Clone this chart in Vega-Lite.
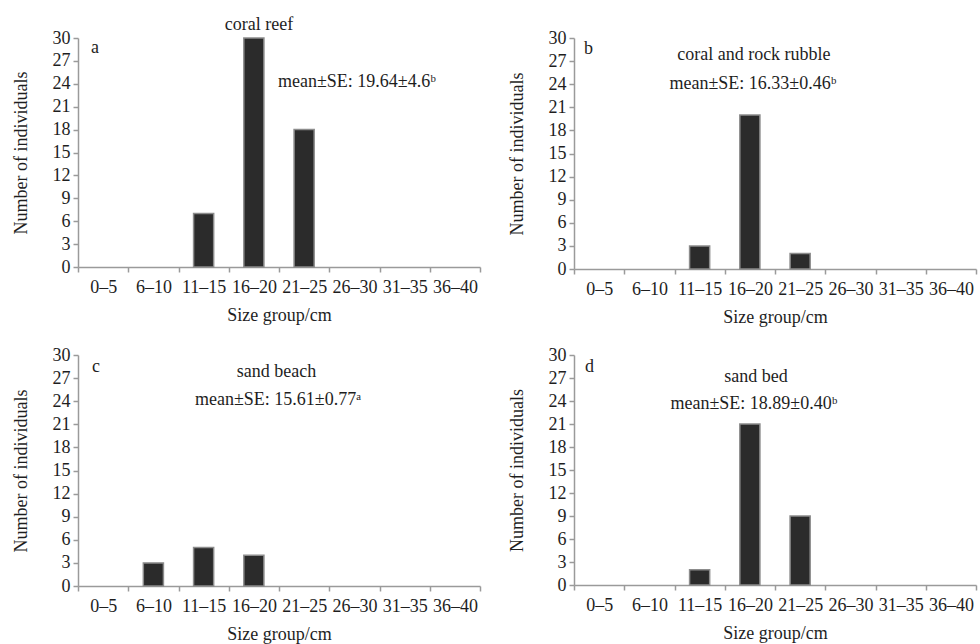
{
  "$schema": "https://vega.github.io/schema/vega-lite/v6.json",
  "background": "white",
  "padding": {"left": 12, "top": 16, "right": 2, "bottom": 2},
  "datasets": {
    "counts": [
      {"habitat": "a", "group": "11–15", "n": 7},
      {"habitat": "a", "group": "16–20", "n": 30},
      {"habitat": "a", "group": "21–25", "n": 18},
      {"habitat": "b", "group": "11–15", "n": 3},
      {"habitat": "b", "group": "16–20", "n": 20},
      {"habitat": "b", "group": "21–25", "n": 2},
      {"habitat": "c", "group": "6–10", "n": 3},
      {"habitat": "c", "group": "11–15", "n": 5},
      {"habitat": "c", "group": "16–20", "n": 4},
      {"habitat": "d", "group": "11–15", "n": 2},
      {"habitat": "d", "group": "16–20", "n": 21},
      {"habitat": "d", "group": "21–25", "n": 9}
    ],
    "notes": [
      {"habitat": "a", "kind": "tag", "text": "a"},
      {"habitat": "a", "kind": "name", "text": "coral reef"},
      {"habitat": "a", "kind": "mean", "text": "mean±SE: 19.64±4.6ᵇ"},
      {"habitat": "b", "kind": "tag", "text": "b"},
      {"habitat": "b", "kind": "name", "text": "coral and rock rubble"},
      {"habitat": "b", "kind": "mean", "text": "mean±SE: 16.33±0.46ᵇ"},
      {"habitat": "c", "kind": "tag", "text": "c"},
      {"habitat": "c", "kind": "name", "text": "sand beach"},
      {"habitat": "c", "kind": "mean", "text": "mean±SE: 15.61±0.77ᵃ"},
      {"habitat": "d", "kind": "tag", "text": "d"},
      {"habitat": "d", "kind": "name", "text": "sand bed"},
      {"habitat": "d", "kind": "mean", "text": "mean±SE: 18.89±0.40ᵇ"}
    ]
  },
  "columns": 2,
  "bounds": "flush",
  "spacing": {"row": 86, "column": 94},
  "concat": [
    {
      "width": 402,
      "height": 229,
      "layer": [
        {
          "data": {"name": "counts"},
          "transform": [{"filter": "datum.habitat === 'a'"}],
          "mark": {"type": "bar", "color": "#2b2b2b", "stroke": "#8c8c8c", "strokeWidth": 1.5, "width": {"band": 0.4}},
          "encoding": {
            "x": {"field": "group", "type": "nominal", "title": "Size group/cm",
                  "scale": {"domain": ["0–5", "6–10", "11–15", "16–20", "21–25", "26–30", "31–35", "36–40"], "paddingInner": 0, "paddingOuter": 0},
                  "axis": {"labelAngle": 0, "tickBand": "extent", "labelPadding": 6, "titlePadding": 10, "labelFont": "Liberation Serif", "titleFont": "Liberation Serif", "labelFontSize": 18, "titleFontSize": 18, "titleFontWeight": "normal", "labelColor": "#1e1e1e", "titleColor": "#1e1e1e", "domainColor": "#9a9a9a", "tickColor": "#9a9a9a", "domainWidth": 1.5, "tickWidth": 1.5, "tickSize": 5, "grid": false}},
            "y": {"field": "n", "type": "quantitative", "title": "Number of individuals",
                  "scale": {"domain": [0, 30], "nice": false},
                  "axis": {"values": [0, 3, 6, 9, 12, 15, 18, 21, 24, 27, 30], "labelOverlap": false, "labelPadding": 3, "titlePadding": 22, "labelFont": "Liberation Serif", "titleFont": "Liberation Serif", "labelFontSize": 18, "titleFontSize": 18, "titleFontWeight": "normal", "labelColor": "#1e1e1e", "titleColor": "#1e1e1e", "domainColor": "#9a9a9a", "tickColor": "#9a9a9a", "domainWidth": 1.5, "tickWidth": 1.5, "tickSize": 5, "grid": false}}
          }
        },
        {
          "data": {"name": "notes"},
          "transform": [{"filter": "datum.habitat === 'a' && datum.kind === 'tag'"}],
          "mark": {"type": "text", "align": "left", "dx": 13, "font": "Liberation Serif", "fontSize": 18, "color": "#1e1e1e"},
          "encoding": {
            "x": {"datum": "0–5", "bandPosition": 0, "title": "Size group/cm",
                  "axis": {"labelAngle": 0, "tickBand": "extent", "labelPadding": 6, "titlePadding": 10, "labelFont": "Liberation Serif", "titleFont": "Liberation Serif", "labelFontSize": 18, "titleFontSize": 18, "titleFontWeight": "normal", "labelColor": "#1e1e1e", "titleColor": "#1e1e1e", "domainColor": "#9a9a9a", "tickColor": "#9a9a9a", "domainWidth": 1.5, "tickWidth": 1.5, "tickSize": 5, "grid": false}},
            "y": {"datum": 28.7, "title": "Number of individuals",
                  "axis": {"values": [0, 3, 6, 9, 12, 15, 18, 21, 24, 27, 30], "labelOverlap": false, "labelPadding": 3, "titlePadding": 22, "labelFont": "Liberation Serif", "titleFont": "Liberation Serif", "labelFontSize": 18, "titleFontSize": 18, "titleFontWeight": "normal", "labelColor": "#1e1e1e", "titleColor": "#1e1e1e", "domainColor": "#9a9a9a", "tickColor": "#9a9a9a", "domainWidth": 1.5, "tickWidth": 1.5, "tickSize": 5, "grid": false}},
            "text": {"field": "text"}
          }
        },
        {
          "data": {"name": "notes"},
          "transform": [{"filter": "datum.habitat === 'a' && datum.kind === 'name'"}],
          "mark": {"type": "text", "font": "Liberation Serif", "fontSize": 18, "color": "#1e1e1e"},
          "encoding": {
            "x": {"datum": "16–20", "bandPosition": 0.6, "title": "Size group/cm",
                  "axis": {"labelAngle": 0, "tickBand": "extent", "labelPadding": 6, "titlePadding": 10, "labelFont": "Liberation Serif", "titleFont": "Liberation Serif", "labelFontSize": 18, "titleFontSize": 18, "titleFontWeight": "normal", "labelColor": "#1e1e1e", "titleColor": "#1e1e1e", "domainColor": "#9a9a9a", "tickColor": "#9a9a9a", "domainWidth": 1.5, "tickWidth": 1.5, "tickSize": 5, "grid": false}},
            "y": {"datum": 31.7, "title": "Number of individuals",
                  "axis": {"values": [0, 3, 6, 9, 12, 15, 18, 21, 24, 27, 30], "labelOverlap": false, "labelPadding": 3, "titlePadding": 22, "labelFont": "Liberation Serif", "titleFont": "Liberation Serif", "labelFontSize": 18, "titleFontSize": 18, "titleFontWeight": "normal", "labelColor": "#1e1e1e", "titleColor": "#1e1e1e", "domainColor": "#9a9a9a", "tickColor": "#9a9a9a", "domainWidth": 1.5, "tickWidth": 1.5, "tickSize": 5, "grid": false}},
            "text": {"field": "text"}
          }
        },
        {
          "data": {"name": "notes"},
          "transform": [{"filter": "datum.habitat === 'a' && datum.kind === 'mean'"}],
          "mark": {"type": "text", "font": "Liberation Serif", "fontSize": 18, "color": "#1e1e1e"},
          "encoding": {
            "x": {"datum": "26–30", "bandPosition": 0.55, "title": "Size group/cm",
                  "axis": {"labelAngle": 0, "tickBand": "extent", "labelPadding": 6, "titlePadding": 10, "labelFont": "Liberation Serif", "titleFont": "Liberation Serif", "labelFontSize": 18, "titleFontSize": 18, "titleFontWeight": "normal", "labelColor": "#1e1e1e", "titleColor": "#1e1e1e", "domainColor": "#9a9a9a", "tickColor": "#9a9a9a", "domainWidth": 1.5, "tickWidth": 1.5, "tickSize": 5, "grid": false}},
            "y": {"datum": 24.2, "title": "Number of individuals",
                  "axis": {"values": [0, 3, 6, 9, 12, 15, 18, 21, 24, 27, 30], "labelOverlap": false, "labelPadding": 3, "titlePadding": 22, "labelFont": "Liberation Serif", "titleFont": "Liberation Serif", "labelFontSize": 18, "titleFontSize": 18, "titleFontWeight": "normal", "labelColor": "#1e1e1e", "titleColor": "#1e1e1e", "domainColor": "#9a9a9a", "tickColor": "#9a9a9a", "domainWidth": 1.5, "tickWidth": 1.5, "tickSize": 5, "grid": false}},
            "text": {"field": "text"}
          }
        }
      ]
    },
    {
      "width": 402,
      "height": 231,
      "layer": [
        {
          "data": {"name": "counts"},
          "transform": [{"filter": "datum.habitat === 'b'"}],
          "mark": {"type": "bar", "color": "#2b2b2b", "stroke": "#8c8c8c", "strokeWidth": 1.5, "width": {"band": 0.4}},
          "encoding": {
            "x": {"field": "group", "type": "nominal", "title": "Size group/cm",
                  "scale": {"domain": ["0–5", "6–10", "11–15", "16–20", "21–25", "26–30", "31–35", "36–40"], "paddingInner": 0, "paddingOuter": 0},
                  "axis": {"labelAngle": 0, "tickBand": "extent", "labelPadding": 6, "titlePadding": 10, "labelFont": "Liberation Serif", "titleFont": "Liberation Serif", "labelFontSize": 18, "titleFontSize": 18, "titleFontWeight": "normal", "labelColor": "#1e1e1e", "titleColor": "#1e1e1e", "domainColor": "#9a9a9a", "tickColor": "#9a9a9a", "domainWidth": 1.5, "tickWidth": 1.5, "tickSize": 5, "grid": false}},
            "y": {"field": "n", "type": "quantitative", "title": "Number of individuals",
                  "scale": {"domain": [0, 30], "nice": false},
                  "axis": {"values": [0, 3, 6, 9, 12, 15, 18, 21, 24, 27, 30], "labelOverlap": false, "labelPadding": 3, "titlePadding": 22, "labelFont": "Liberation Serif", "titleFont": "Liberation Serif", "labelFontSize": 18, "titleFontSize": 18, "titleFontWeight": "normal", "labelColor": "#1e1e1e", "titleColor": "#1e1e1e", "domainColor": "#9a9a9a", "tickColor": "#9a9a9a", "domainWidth": 1.5, "tickWidth": 1.5, "tickSize": 5, "grid": false}}
          }
        },
        {
          "data": {"name": "notes"},
          "transform": [{"filter": "datum.habitat === 'b' && datum.kind === 'tag'"}],
          "mark": {"type": "text", "align": "left", "dx": 10, "font": "Liberation Serif", "fontSize": 18, "color": "#1e1e1e"},
          "encoding": {
            "x": {"datum": "0–5", "bandPosition": 0, "title": "Size group/cm",
                  "axis": {"labelAngle": 0, "tickBand": "extent", "labelPadding": 6, "titlePadding": 10, "labelFont": "Liberation Serif", "titleFont": "Liberation Serif", "labelFontSize": 18, "titleFontSize": 18, "titleFontWeight": "normal", "labelColor": "#1e1e1e", "titleColor": "#1e1e1e", "domainColor": "#9a9a9a", "tickColor": "#9a9a9a", "domainWidth": 1.5, "tickWidth": 1.5, "tickSize": 5, "grid": false}},
            "y": {"datum": 28.6, "title": "Number of individuals",
                  "axis": {"values": [0, 3, 6, 9, 12, 15, 18, 21, 24, 27, 30], "labelOverlap": false, "labelPadding": 3, "titlePadding": 22, "labelFont": "Liberation Serif", "titleFont": "Liberation Serif", "labelFontSize": 18, "titleFontSize": 18, "titleFontWeight": "normal", "labelColor": "#1e1e1e", "titleColor": "#1e1e1e", "domainColor": "#9a9a9a", "tickColor": "#9a9a9a", "domainWidth": 1.5, "tickWidth": 1.5, "tickSize": 5, "grid": false}},
            "text": {"field": "text"}
          }
        },
        {
          "data": {"name": "notes"},
          "transform": [{"filter": "datum.habitat === 'b' && datum.kind === 'name'"}],
          "mark": {"type": "text", "font": "Liberation Serif", "fontSize": 18, "color": "#1e1e1e"},
          "encoding": {
            "x": {"datum": "16–20", "bandPosition": 0.58, "title": "Size group/cm",
                  "axis": {"labelAngle": 0, "tickBand": "extent", "labelPadding": 6, "titlePadding": 10, "labelFont": "Liberation Serif", "titleFont": "Liberation Serif", "labelFontSize": 18, "titleFontSize": 18, "titleFontWeight": "normal", "labelColor": "#1e1e1e", "titleColor": "#1e1e1e", "domainColor": "#9a9a9a", "tickColor": "#9a9a9a", "domainWidth": 1.5, "tickWidth": 1.5, "tickSize": 5, "grid": false}},
            "y": {"datum": 27.8, "title": "Number of individuals",
                  "axis": {"values": [0, 3, 6, 9, 12, 15, 18, 21, 24, 27, 30], "labelOverlap": false, "labelPadding": 3, "titlePadding": 22, "labelFont": "Liberation Serif", "titleFont": "Liberation Serif", "labelFontSize": 18, "titleFontSize": 18, "titleFontWeight": "normal", "labelColor": "#1e1e1e", "titleColor": "#1e1e1e", "domainColor": "#9a9a9a", "tickColor": "#9a9a9a", "domainWidth": 1.5, "tickWidth": 1.5, "tickSize": 5, "grid": false}},
            "text": {"field": "text"}
          }
        },
        {
          "data": {"name": "notes"},
          "transform": [{"filter": "datum.habitat === 'b' && datum.kind === 'mean'"}],
          "mark": {"type": "text", "font": "Liberation Serif", "fontSize": 18, "color": "#1e1e1e"},
          "encoding": {
            "x": {"datum": "16–20", "bandPosition": 0.56, "title": "Size group/cm",
                  "axis": {"labelAngle": 0, "tickBand": "extent", "labelPadding": 6, "titlePadding": 10, "labelFont": "Liberation Serif", "titleFont": "Liberation Serif", "labelFontSize": 18, "titleFontSize": 18, "titleFontWeight": "normal", "labelColor": "#1e1e1e", "titleColor": "#1e1e1e", "domainColor": "#9a9a9a", "tickColor": "#9a9a9a", "domainWidth": 1.5, "tickWidth": 1.5, "tickSize": 5, "grid": false}},
            "y": {"datum": 24.0, "title": "Number of individuals",
                  "axis": {"values": [0, 3, 6, 9, 12, 15, 18, 21, 24, 27, 30], "labelOverlap": false, "labelPadding": 3, "titlePadding": 22, "labelFont": "Liberation Serif", "titleFont": "Liberation Serif", "labelFontSize": 18, "titleFontSize": 18, "titleFontWeight": "normal", "labelColor": "#1e1e1e", "titleColor": "#1e1e1e", "domainColor": "#9a9a9a", "tickColor": "#9a9a9a", "domainWidth": 1.5, "tickWidth": 1.5, "tickSize": 5, "grid": false}},
            "text": {"field": "text"}
          }
        }
      ]
    },
    {
      "width": 402,
      "height": 231,
      "layer": [
        {
          "data": {"name": "counts"},
          "transform": [{"filter": "datum.habitat === 'c'"}],
          "mark": {"type": "bar", "color": "#2b2b2b", "stroke": "#8c8c8c", "strokeWidth": 1.5, "width": {"band": 0.4}},
          "encoding": {
            "x": {"field": "group", "type": "nominal", "title": "Size group/cm",
                  "scale": {"domain": ["0–5", "6–10", "11–15", "16–20", "21–25", "26–30", "31–35", "36–40"], "paddingInner": 0, "paddingOuter": 0},
                  "axis": {"labelAngle": 0, "tickBand": "extent", "labelPadding": 6, "titlePadding": 10, "labelFont": "Liberation Serif", "titleFont": "Liberation Serif", "labelFontSize": 18, "titleFontSize": 18, "titleFontWeight": "normal", "labelColor": "#1e1e1e", "titleColor": "#1e1e1e", "domainColor": "#9a9a9a", "tickColor": "#9a9a9a", "domainWidth": 1.5, "tickWidth": 1.5, "tickSize": 5, "grid": false}},
            "y": {"field": "n", "type": "quantitative", "title": "Number of individuals",
                  "scale": {"domain": [0, 30], "nice": false},
                  "axis": {"values": [0, 3, 6, 9, 12, 15, 18, 21, 24, 27, 30], "labelOverlap": false, "labelPadding": 3, "titlePadding": 22, "labelFont": "Liberation Serif", "titleFont": "Liberation Serif", "labelFontSize": 18, "titleFontSize": 18, "titleFontWeight": "normal", "labelColor": "#1e1e1e", "titleColor": "#1e1e1e", "domainColor": "#9a9a9a", "tickColor": "#9a9a9a", "domainWidth": 1.5, "tickWidth": 1.5, "tickSize": 5, "grid": false}}
          }
        },
        {
          "data": {"name": "notes"},
          "transform": [{"filter": "datum.habitat === 'c' && datum.kind === 'tag'"}],
          "mark": {"type": "text", "align": "left", "dx": 14, "font": "Liberation Serif", "fontSize": 18, "color": "#1e1e1e"},
          "encoding": {
            "x": {"datum": "0–5", "bandPosition": 0, "title": "Size group/cm",
                  "axis": {"labelAngle": 0, "tickBand": "extent", "labelPadding": 6, "titlePadding": 10, "labelFont": "Liberation Serif", "titleFont": "Liberation Serif", "labelFontSize": 18, "titleFontSize": 18, "titleFontWeight": "normal", "labelColor": "#1e1e1e", "titleColor": "#1e1e1e", "domainColor": "#9a9a9a", "tickColor": "#9a9a9a", "domainWidth": 1.5, "tickWidth": 1.5, "tickSize": 5, "grid": false}},
            "y": {"datum": 28.4, "title": "Number of individuals",
                  "axis": {"values": [0, 3, 6, 9, 12, 15, 18, 21, 24, 27, 30], "labelOverlap": false, "labelPadding": 3, "titlePadding": 22, "labelFont": "Liberation Serif", "titleFont": "Liberation Serif", "labelFontSize": 18, "titleFontSize": 18, "titleFontWeight": "normal", "labelColor": "#1e1e1e", "titleColor": "#1e1e1e", "domainColor": "#9a9a9a", "tickColor": "#9a9a9a", "domainWidth": 1.5, "tickWidth": 1.5, "tickSize": 5, "grid": false}},
            "text": {"field": "text"}
          }
        },
        {
          "data": {"name": "notes"},
          "transform": [{"filter": "datum.habitat === 'c' && datum.kind === 'name'"}],
          "mark": {"type": "text", "font": "Liberation Serif", "fontSize": 18, "color": "#1e1e1e"},
          "encoding": {
            "x": {"datum": "16–20", "bandPosition": 0.95, "title": "Size group/cm",
                  "axis": {"labelAngle": 0, "tickBand": "extent", "labelPadding": 6, "titlePadding": 10, "labelFont": "Liberation Serif", "titleFont": "Liberation Serif", "labelFontSize": 18, "titleFontSize": 18, "titleFontWeight": "normal", "labelColor": "#1e1e1e", "titleColor": "#1e1e1e", "domainColor": "#9a9a9a", "tickColor": "#9a9a9a", "domainWidth": 1.5, "tickWidth": 1.5, "tickSize": 5, "grid": false}},
            "y": {"datum": 27.8, "title": "Number of individuals",
                  "axis": {"values": [0, 3, 6, 9, 12, 15, 18, 21, 24, 27, 30], "labelOverlap": false, "labelPadding": 3, "titlePadding": 22, "labelFont": "Liberation Serif", "titleFont": "Liberation Serif", "labelFontSize": 18, "titleFontSize": 18, "titleFontWeight": "normal", "labelColor": "#1e1e1e", "titleColor": "#1e1e1e", "domainColor": "#9a9a9a", "tickColor": "#9a9a9a", "domainWidth": 1.5, "tickWidth": 1.5, "tickSize": 5, "grid": false}},
            "text": {"field": "text"}
          }
        },
        {
          "data": {"name": "notes"},
          "transform": [{"filter": "datum.habitat === 'c' && datum.kind === 'mean'"}],
          "mark": {"type": "text", "font": "Liberation Serif", "fontSize": 18, "color": "#1e1e1e"},
          "encoding": {
            "x": {"datum": "16–20", "bandPosition": 0.98, "title": "Size group/cm",
                  "axis": {"labelAngle": 0, "tickBand": "extent", "labelPadding": 6, "titlePadding": 10, "labelFont": "Liberation Serif", "titleFont": "Liberation Serif", "labelFontSize": 18, "titleFontSize": 18, "titleFontWeight": "normal", "labelColor": "#1e1e1e", "titleColor": "#1e1e1e", "domainColor": "#9a9a9a", "tickColor": "#9a9a9a", "domainWidth": 1.5, "tickWidth": 1.5, "tickSize": 5, "grid": false}},
            "y": {"datum": 24.2, "title": "Number of individuals",
                  "axis": {"values": [0, 3, 6, 9, 12, 15, 18, 21, 24, 27, 30], "labelOverlap": false, "labelPadding": 3, "titlePadding": 22, "labelFont": "Liberation Serif", "titleFont": "Liberation Serif", "labelFontSize": 18, "titleFontSize": 18, "titleFontWeight": "normal", "labelColor": "#1e1e1e", "titleColor": "#1e1e1e", "domainColor": "#9a9a9a", "tickColor": "#9a9a9a", "domainWidth": 1.5, "tickWidth": 1.5, "tickSize": 5, "grid": false}},
            "text": {"field": "text"}
          }
        }
      ]
    },
    {
      "width": 402,
      "height": 230,
      "layer": [
        {
          "data": {"name": "counts"},
          "transform": [{"filter": "datum.habitat === 'd'"}],
          "mark": {"type": "bar", "color": "#2b2b2b", "stroke": "#8c8c8c", "strokeWidth": 1.5, "width": {"band": 0.4}},
          "encoding": {
            "x": {"field": "group", "type": "nominal", "title": "Size group/cm",
                  "scale": {"domain": ["0–5", "6–10", "11–15", "16–20", "21–25", "26–30", "31–35", "36–40"], "paddingInner": 0, "paddingOuter": 0},
                  "axis": {"labelAngle": 0, "tickBand": "extent", "labelPadding": 6, "titlePadding": 10, "labelFont": "Liberation Serif", "titleFont": "Liberation Serif", "labelFontSize": 18, "titleFontSize": 18, "titleFontWeight": "normal", "labelColor": "#1e1e1e", "titleColor": "#1e1e1e", "domainColor": "#9a9a9a", "tickColor": "#9a9a9a", "domainWidth": 1.5, "tickWidth": 1.5, "tickSize": 5, "grid": false}},
            "y": {"field": "n", "type": "quantitative", "title": "Number of individuals",
                  "scale": {"domain": [0, 30], "nice": false},
                  "axis": {"values": [0, 3, 6, 9, 12, 15, 18, 21, 24, 27, 30], "labelOverlap": false, "labelPadding": 3, "titlePadding": 22, "labelFont": "Liberation Serif", "titleFont": "Liberation Serif", "labelFontSize": 18, "titleFontSize": 18, "titleFontWeight": "normal", "labelColor": "#1e1e1e", "titleColor": "#1e1e1e", "domainColor": "#9a9a9a", "tickColor": "#9a9a9a", "domainWidth": 1.5, "tickWidth": 1.5, "tickSize": 5, "grid": false}}
          }
        },
        {
          "data": {"name": "notes"},
          "transform": [{"filter": "datum.habitat === 'd' && datum.kind === 'tag'"}],
          "mark": {"type": "text", "align": "left", "dx": 11, "font": "Liberation Serif", "fontSize": 18, "color": "#1e1e1e"},
          "encoding": {
            "x": {"datum": "0–5", "bandPosition": 0, "title": "Size group/cm",
                  "axis": {"labelAngle": 0, "tickBand": "extent", "labelPadding": 6, "titlePadding": 10, "labelFont": "Liberation Serif", "titleFont": "Liberation Serif", "labelFontSize": 18, "titleFontSize": 18, "titleFontWeight": "normal", "labelColor": "#1e1e1e", "titleColor": "#1e1e1e", "domainColor": "#9a9a9a", "tickColor": "#9a9a9a", "domainWidth": 1.5, "tickWidth": 1.5, "tickSize": 5, "grid": false}},
            "y": {"datum": 28.4, "title": "Number of individuals",
                  "axis": {"values": [0, 3, 6, 9, 12, 15, 18, 21, 24, 27, 30], "labelOverlap": false, "labelPadding": 3, "titlePadding": 22, "labelFont": "Liberation Serif", "titleFont": "Liberation Serif", "labelFontSize": 18, "titleFontSize": 18, "titleFontWeight": "normal", "labelColor": "#1e1e1e", "titleColor": "#1e1e1e", "domainColor": "#9a9a9a", "tickColor": "#9a9a9a", "domainWidth": 1.5, "tickWidth": 1.5, "tickSize": 5, "grid": false}},
            "text": {"field": "text"}
          }
        },
        {
          "data": {"name": "notes"},
          "transform": [{"filter": "datum.habitat === 'd' && datum.kind === 'name'"}],
          "mark": {"type": "text", "font": "Liberation Serif", "fontSize": 18, "color": "#1e1e1e"},
          "encoding": {
            "x": {"datum": "16–20", "bandPosition": 0.62, "title": "Size group/cm",
                  "axis": {"labelAngle": 0, "tickBand": "extent", "labelPadding": 6, "titlePadding": 10, "labelFont": "Liberation Serif", "titleFont": "Liberation Serif", "labelFontSize": 18, "titleFontSize": 18, "titleFontWeight": "normal", "labelColor": "#1e1e1e", "titleColor": "#1e1e1e", "domainColor": "#9a9a9a", "tickColor": "#9a9a9a", "domainWidth": 1.5, "tickWidth": 1.5, "tickSize": 5, "grid": false}},
            "y": {"datum": 27.1, "title": "Number of individuals",
                  "axis": {"values": [0, 3, 6, 9, 12, 15, 18, 21, 24, 27, 30], "labelOverlap": false, "labelPadding": 3, "titlePadding": 22, "labelFont": "Liberation Serif", "titleFont": "Liberation Serif", "labelFontSize": 18, "titleFontSize": 18, "titleFontWeight": "normal", "labelColor": "#1e1e1e", "titleColor": "#1e1e1e", "domainColor": "#9a9a9a", "tickColor": "#9a9a9a", "domainWidth": 1.5, "tickWidth": 1.5, "tickSize": 5, "grid": false}},
            "text": {"field": "text"}
          }
        },
        {
          "data": {"name": "notes"},
          "transform": [{"filter": "datum.habitat === 'd' && datum.kind === 'mean'"}],
          "mark": {"type": "text", "font": "Liberation Serif", "fontSize": 18, "color": "#1e1e1e"},
          "encoding": {
            "x": {"datum": "16–20", "bandPosition": 0.58, "title": "Size group/cm",
                  "axis": {"labelAngle": 0, "tickBand": "extent", "labelPadding": 6, "titlePadding": 10, "labelFont": "Liberation Serif", "titleFont": "Liberation Serif", "labelFontSize": 18, "titleFontSize": 18, "titleFontWeight": "normal", "labelColor": "#1e1e1e", "titleColor": "#1e1e1e", "domainColor": "#9a9a9a", "tickColor": "#9a9a9a", "domainWidth": 1.5, "tickWidth": 1.5, "tickSize": 5, "grid": false}},
            "y": {"datum": 23.6, "title": "Number of individuals",
                  "axis": {"values": [0, 3, 6, 9, 12, 15, 18, 21, 24, 27, 30], "labelOverlap": false, "labelPadding": 3, "titlePadding": 22, "labelFont": "Liberation Serif", "titleFont": "Liberation Serif", "labelFontSize": 18, "titleFontSize": 18, "titleFontWeight": "normal", "labelColor": "#1e1e1e", "titleColor": "#1e1e1e", "domainColor": "#9a9a9a", "tickColor": "#9a9a9a", "domainWidth": 1.5, "tickWidth": 1.5, "tickSize": 5, "grid": false}},
            "text": {"field": "text"}
          }
        }
      ]
    }
  ],
  "config": {
    "view": {"stroke": null}
  }
}
